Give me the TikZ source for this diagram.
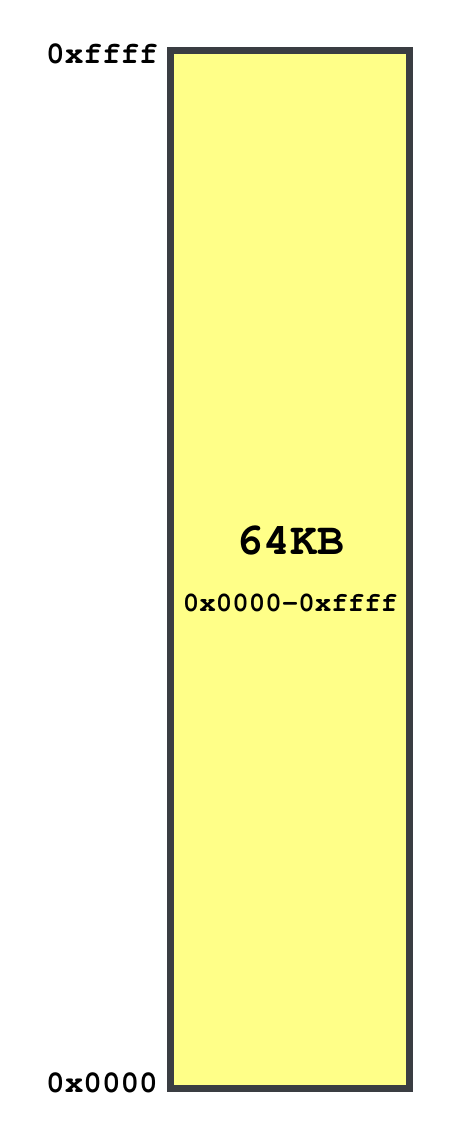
\documentclass[tikz,border=0pt]{standalone}
\usepackage{fontspec}
\setmonofont{TeX Gyre Cursor}[Ligatures={NoCommon,NoRequired,NoContextual}]
\usetikzlibrary{shadows}
\definecolor{ink}{RGB}{58,61,66}
\definecolor{memfill}{RGB}{255,255,136}
\definecolor{shade}{RGB}{170,170,185}
\tikzset{
  memblk/.style={draw=ink,line width=7pt,fill=memfill,inner sep=0pt,
    minimum width=239.5pt,minimum height=1038pt,
    drop shadow={shadow xshift=3pt,shadow yshift=-3pt,fill=shade,opacity=0.5}},
  addrlbl/.style={font=\ttfamily\bfseries\fontsize{31}{31}\selectfont,inner sep=0pt,text=black},
  sizelbl/.style={font=\ttfamily\bfseries\fontsize{45}{45}\selectfont,inner sep=0pt},
  spanlbl/.style={font=\ttfamily\bfseries\fontsize{27.5}{27.5}\selectfont,inner sep=0pt},
}
\begin{document}
\begin{tikzpicture}[x=1pt,y=-1pt]
  \useasboundingbox (0,0) rectangle (451,1147);
  % memory block
  \node[memblk] (mem) at (289.75,569.5) {};
  \node[sizelbl] (kb) at (290,540) {64KB};
  \node[spanlbl] (span) at (290,603) {0x0000-0xffff};
  % address labels
  \node[addrlbl,anchor=east] (hi) at (158,54) {0xffff};
  \node[addrlbl,anchor=east] (lo) at (158,1083) {0x0000};
\end{tikzpicture}
\end{document}
